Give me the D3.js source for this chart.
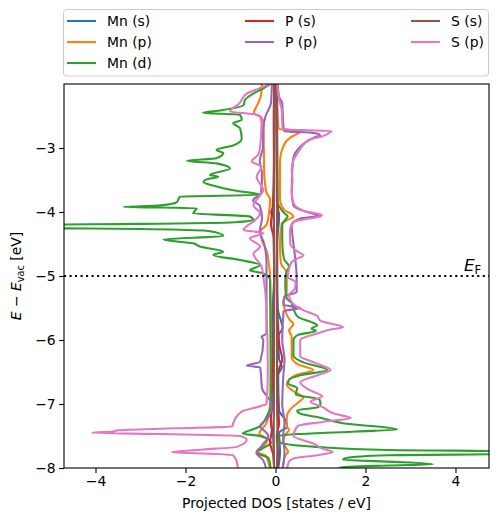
<!DOCTYPE html>
<html><head><meta charset="utf-8">
<script src="https://cdn.jsdelivr.net/npm/d3@7"></script>
<style>body{margin:0;background:#fff} svg{display:block} text{font-family:"DejaVu Sans",sans-serif;fill:#000}</style>
</head><body><svg id="c" width="498" height="522"></svg>
<script>
const seriesNames = ["Mn (s)","Mn (p)","Mn (d)","P (s)","P (p)","S (s)","S (p)"];
const seriesColors = ["#1f77b4","#ff7f0e","#2ca02c","#d62728","#9467bd","#8c564b","#e377c2"];
const xTicks = [-4,-2,0,2,4];
const yTicks = [-8,-7,-6,-5,-4,-3];
const fermiLevel = -5;

// each point: [energy (eV), projected DOS]; spin up > 0, spin down < 0
const mnSUp = [[-2,0.02],[-3,0.03],[-3.9,0.04],[-4.05,0.08],[-4.5,0.04],[-5,0.04],[-5.5,0.05],[-5.7,0.12],[-5.8,0.16],[-5.95,0.06],[-6.3,0.08],[-6.42,0.14],[-6.55,0.06],[-7.1,0.08],[-7.25,0.22],[-7.35,0.26],[-7.45,0.08],[-7.75,0.1],[-8.05,0.05]];
const mnSDown = [[-2,-0.02],[-3.9,-0.04],[-4.0,-0.1],[-4.1,-0.04],[-5,-0.03],[-5.75,-0.08],[-6.4,-0.06],[-7.3,-0.1],[-7.5,-0.05],[-8.05,-0.03]];

const mnPUp = [[-2.0,0.03],[-2.5,0.05],[-2.7,0.07],[-2.72,0.3],[-2.75,0.55],[-2.79,0.45],[-2.84,0.32],[-2.98,0.17],[-3.2,0.1],[-3.5,0.1],[-3.8,0.1],[-3.97,0.2],[-4.03,0.35],[-4.07,0.4],[-4.12,0.28],[-4.18,0.14],[-4.5,0.1],[-4.8,0.12],[-4.95,0.25],[-5.25,0.25],[-5.4,0.17],[-5.55,0.22],[-5.69,0.32],[-5.75,0.4],[-5.85,0.3],[-5.95,0.36],[-6.27,0.36],[-6.38,0.5],[-6.47,0.84],[-6.55,0.45],[-6.62,0.3],[-6.7,0.25],[-6.8,0.4],[-6.9,0.62],[-6.95,0.55],[-7.09,0.32],[-7.2,0.25],[-7.35,0.25],[-7.4,0.3],[-7.5,0.2],[-7.6,0.17],[-7.75,0.28],[-7.8,0.22],[-8.05,0.15]];
const mnPDown = [[-2.0,-0.3],[-2.2,-0.33],[-2.35,-0.42],[-2.45,-0.48],[-2.52,-0.32],[-2.6,-0.27],[-3.0,-0.26],[-3.4,-0.25],[-3.7,-0.2],[-3.8,-0.12],[-4.05,-0.15],[-4.2,-0.2],[-4.3,-0.33],[-4.45,-0.3],[-4.6,-0.2],[-4.8,-0.15],[-5.0,-0.12],[-6.0,-0.1],[-7.0,-0.12],[-7.3,-0.2],[-7.46,-0.36],[-7.55,-0.18],[-7.65,-0.25],[-7.74,-0.42],[-7.82,-0.2],[-8.05,-0.12]];

const mnDUp = [[-2.0,0.03],[-3.0,0.04],[-3.85,0.05],[-3.95,0.12],[-4.02,0.2],[-4.07,0.27],[-4.12,0.22],[-4.2,0.15],[-4.4,0.15],[-4.6,0.16],[-4.75,0.2],[-4.85,0.3],[-4.93,0.25],[-5.0,0.22],[-5.2,0.22],[-5.35,0.25],[-5.42,0.36],[-5.55,0.42],[-5.64,0.5],[-5.72,0.8],[-5.77,0.93],[-5.82,0.8],[-5.86,0.9],[-5.92,0.5],[-6.0,0.4],[-6.25,0.4],[-6.35,0.62],[-6.47,1.15],[-6.55,0.55],[-6.62,0.3],[-6.68,0.28],[-6.75,0.48],[-6.85,0.45],[-6.93,0.98],[-7.0,1.0],[-7.05,0.95],[-7.1,0.48],[-7.15,0.55],[-7.2,0.9],[-7.3,1.5],[-7.4,2.7],[-7.43,1.8],[-7.47,0.5],[-7.5,0.05],[-7.6,0.1],[-7.67,0.9],[-7.72,2.5],[-7.74,5.5],[-7.78,5.5],[-7.8,2.5],[-7.84,1.6],[-7.87,1.5],[-7.9,2.5],[-7.94,3.5],[-7.96,2.5],[-7.99,1.45],[-8.05,1.4]];
const mnDDown = [[-2.0,-0.12],[-2.02,-0.16],[-2.25,-0.68],[-2.33,-0.71],[-2.41,-1.2],[-2.45,-1.62],[-2.48,-0.79],[-2.56,-0.75],[-2.61,-0.94],[-2.69,-0.79],[-2.85,-0.75],[-2.96,-0.94],[-3.03,-1.31],[-3.08,-1.16],[-3.16,-1.31],[-3.2,-1.97],[-3.24,-1.31],[-3.32,-1.01],[-3.42,-1.46],[-3.45,-1.27],[-3.49,-1.53],[-3.53,-1.6],[-3.6,-1.31],[-3.66,-0.94],[-3.73,-0.34],[-3.76,-2.12],[-3.85,-2.2],[-3.9,-2.6],[-3.92,-3.38],[-3.94,-1.75],[-4.02,-1.83],[-4.07,-0.57],[-4.125,-0.49],[-4.16,-0.9],[-4.185,-3.0],[-4.2,-5.5],[-4.25,-5.5],[-4.265,-3.0],[-4.29,-1.6],[-4.31,-1.38],[-4.375,-1.16],[-4.43,-2.49],[-4.49,-1.83],[-4.54,-1.68],[-4.62,-1.16],[-4.67,-1.38],[-4.75,-0.79],[-4.83,-0.34],[-4.91,-0.57],[-4.96,-0.27],[-5.06,-0.12],[-6.0,-0.11],[-7.0,-0.1],[-7.2,-0.2],[-7.35,-0.35],[-7.42,-0.6],[-7.46,-0.73],[-7.5,-0.35],[-7.6,-0.1],[-7.7,-0.3],[-7.76,-0.42],[-7.85,-0.15],[-8.05,-0.1]];

const pSUp = [[-2,0.02],[-3,0.025],[-3.8,0.03],[-4.0,0.06],[-4.3,0.03],[-5,0.03],[-5.5,0.04],[-5.8,0.06],[-6.1,0.09],[-6.3,0.15],[-6.45,0.08],[-6.6,0.04],[-7.0,0.05],[-7.3,0.08],[-7.5,0.03],[-7.8,0.06],[-8.05,0.03]];
const pSDown = [[-2,-0.02],[-2.5,-0.04],[-3.3,-0.035],[-3.9,-0.06],[-4.2,-0.1],[-4.4,-0.04],[-5,-0.03],[-6.0,-0.04],[-6.6,-0.06],[-6.9,-0.04],[-7.2,-0.1],[-7.4,-0.08],[-7.6,-0.12],[-7.8,-0.05],[-8.05,-0.03]];

const pPUp = [[-2.0,0.05],[-2.2,0.08],[-2.3,0.15],[-2.6,0.17],[-2.74,0.2],[-2.76,0.8],[-2.8,0.99],[-2.84,0.85],[-2.92,0.65],[-3.02,0.5],[-3.15,0.4],[-3.4,0.37],[-3.7,0.36],[-3.9,0.4],[-4.0,0.7],[-4.06,0.96],[-4.1,0.55],[-4.2,0.36],[-4.5,0.4],[-4.8,0.45],[-5.0,0.47],[-5.25,0.47],[-5.32,0.2],[-5.45,0.18],[-5.5,0.55],[-5.55,0.18],[-6.0,0.15],[-6.3,0.2],[-6.5,0.18],[-7.0,0.15],[-7.3,0.2],[-7.5,0.17],[-7.75,0.2],[-8.05,0.15]];
const pPDown = [[-2.0,-0.08],[-2.3,-0.1],[-2.5,-0.22],[-2.7,-0.27],[-3.0,-0.28],[-3.2,-0.35],[-3.4,-0.3],[-3.7,-0.32],[-3.82,-0.5],[-3.9,-0.35],[-4.1,-0.3],[-4.3,-0.35],[-4.5,-0.25],[-4.8,-0.2],[-5.0,-0.2],[-5.9,-0.2],[-5.95,-0.31],[-6.0,-0.27],[-6.34,-0.34],[-6.4,-0.64],[-6.43,-0.34],[-6.67,-0.31],[-6.75,-0.3],[-7.02,-0.08],[-7.2,-0.15],[-7.35,-0.34],[-7.45,-0.2],[-7.5,-0.16],[-7.65,-0.3],[-7.77,-0.42],[-7.87,-0.28],[-8.05,-0.2]];

const sSUp = [[-2,0.03],[-3,0.035],[-4,0.035],[-5,0.03],[-6,0.035],[-7,0.035],[-7.5,0.045],[-8.05,0.03]];
const sSDown = [[-2,-0.03],[-3,-0.03],[-4,-0.035],[-5,-0.03],[-6,-0.03],[-7,-0.035],[-7.5,-0.04],[-8.05,-0.03]];

const sPUp = [[-2.0,0.04],[-2.15,0.06],[-2.3,0.1],[-2.4,0.14],[-2.6,0.15],[-2.7,0.16],[-2.72,0.6],[-2.735,1.25],[-2.76,1.2],[-2.8,1.1],[-2.82,1.03],[-2.86,0.77],[-2.95,0.62],[-3.06,0.51],[-3.19,0.4],[-3.35,0.36],[-3.5,0.38],[-3.66,0.36],[-3.86,0.4],[-3.98,0.62],[-4.05,1.03],[-4.08,0.95],[-4.12,0.6],[-4.16,0.4],[-4.3,0.32],[-4.5,0.33],[-4.6,0.45],[-4.68,0.62],[-4.72,0.5],[-4.78,0.36],[-4.9,0.3],[-5.01,0.27],[-5.1,0.45],[-5.2,0.43],[-5.3,0.3],[-5.4,0.35],[-5.53,0.6],[-5.62,0.92],[-5.7,1.0],[-5.8,1.5],[-5.84,1.2],[-5.9,0.92],[-6.0,0.55],[-6.25,0.55],[-6.35,0.85],[-6.47,1.22],[-6.55,0.93],[-6.66,0.55],[-6.78,0.75],[-6.88,1.04],[-6.96,0.78],[-7.05,1.05],[-7.15,1.3],[-7.22,1.67],[-7.28,1.05],[-7.34,0.5],[-7.5,0.4],[-7.62,0.85],[-7.7,1.05],[-7.75,1.27],[-7.8,0.93],[-7.85,0.4],[-7.9,0.3],[-8.05,0.25]];
const sPDown = [[-2.0,-0.12],[-2.08,-0.4],[-2.15,-0.64],[-2.3,-0.8],[-2.43,-1.01],[-2.47,-0.5],[-2.51,-0.34],[-2.61,-0.31],[-2.97,-0.34],[-3.1,-0.38],[-3.21,-0.53],[-3.29,-0.31],[-3.45,-0.42],[-3.66,-0.27],[-3.71,-0.31],[-3.9,-0.49],[-4.02,-0.34],[-4.125,-0.45],[-4.28,-0.71],[-4.33,-0.27],[-4.41,-0.57],[-4.54,-0.34],[-4.65,-0.49],[-4.85,-0.31],[-5.01,-0.27],[-5.5,-0.2],[-6.5,-0.17],[-7.0,-0.2],[-7.02,-0.27],[-7.12,-0.75],[-7.3,-0.94],[-7.35,-0.96],[-7.38,-2.2],[-7.41,-3.5],[-7.43,-3.6],[-7.45,-4.08],[-7.47,-2.5],[-7.5,-0.79],[-7.56,-0.64],[-7.67,-0.86],[-7.71,-1.6],[-7.73,-2.0],[-7.755,-2.31],[-7.78,-1.3],[-7.8,-0.94],[-7.9,-0.86],[-8.05,-0.83]];

const seriesData = [[mnSUp,mnSDown],[mnPUp,mnPDown],[mnDUp,mnDDown],[pSUp,pSDown],[pPUp,pPDown],[sSUp,sSDown],[sPUp,sPDown]];

const svg = d3.select("#c");
const L = 64, R = 489, T = 84, B = 468;
const x = d3.scaleLinear().domain([-4.7, 4.745]).range([L, R]);
const y = d3.scaleLinear().domain([-8, -2]).range([B, T]);

svg.append("defs").append("clipPath").attr("id","clip")
  .append("rect").attr("x",L).attr("y",T).attr("width",R-L).attr("height",B-T);

const plot = svg.append("g").attr("clip-path","url(#clip)");
const line = d3.line().x(d => x(d[1])).y(d => y(d[0])).curve(d3.curveMonotoneY);
seriesData.forEach((pair, i) => {
  pair.forEach(arr => {
    plot.append("path").attr("d", line(arr)).attr("fill","none")
      .attr("stroke", seriesColors[i]).attr("stroke-width",2.08)
      .attr("stroke-linejoin","round").attr("stroke-linecap","butt");
  });
});

// Fermi level
svg.append("line").attr("x1",L).attr("x2",R).attr("y1",y(fermiLevel)).attr("y2",y(fermiLevel))
  .attr("stroke","#000").attr("stroke-width",2.08).attr("stroke-dasharray","2.08,3.43");
const ef = svg.append("text").attr("x",464).attr("y",y(fermiLevel)-5).style("font-size","16.7px");
ef.append("tspan").attr("font-style","italic").text("E");
ef.append("tspan").attr("dy",3).style("font-size","11.7px").text("F");

// axes
const xAxis = d3.axisBottom(x).tickValues(xTicks).tickSize(4.9).tickPadding(3.5)
  .tickFormat(d => d3.format("d")(d).replace("-","\u2212"));
const gx = svg.append("g").attr("transform",`translate(0,${B})`).call(xAxis);
const yAxis = d3.axisLeft(y).tickValues(yTicks).tickSize(4.9).tickPadding(3.5)
  .tickFormat(d => d3.format("d")(d).replace("-","\u2212"));
const gy = svg.append("g").attr("transform",`translate(${L},0)`).call(yAxis);
[gx, gy].forEach(g => {
  g.select(".domain").remove();
  g.selectAll("line").attr("stroke","#000").attr("stroke-width",1.1);
  g.selectAll("text").style("font-size","13.9px").attr("font-family","DejaVu Sans").attr("fill","#000");
});
svg.append("rect").attr("x",L).attr("y",T).attr("width",R-L).attr("height",B-T)
  .attr("fill","none").attr("stroke","#000").attr("stroke-width",1.1);

// axis labels
svg.append("text").attr("x",(L+R)/2).attr("y",508).attr("text-anchor","middle")
  .style("font-size","13.9px").text("Projected DOS [states / eV]");
const yl = svg.append("text").attr("transform",`translate(21,${(T+B)/2}) rotate(-90)`)
  .attr("text-anchor","middle").style("font-size","13.9px");
yl.append("tspan").attr("font-style","italic").text("E");
yl.append("tspan").text(" \u2212 ");
yl.append("tspan").attr("font-style","italic").text("E");
yl.append("tspan").attr("dy",3).style("font-size","9.7px").text("vac");
yl.append("tspan").attr("dy",-3).text(" [eV]");

// legend
const lg = svg.append("g");
lg.append("rect").attr("x",63.5).attr("y",9.5).attr("width",425).attr("height",66.5)
  .attr("rx",3).attr("fill","#fff").attr("fill-opacity",0.8).attr("stroke","#ccc").attr("stroke-width",1);
const colCounts = [3,2,2];
const colX = [67,245,411];
const rowY = [21,42,63];
let idx = 0;
colCounts.forEach((n, c) => {
  for (let r = 0; r < n; r++) {
    const i = idx++;
    lg.append("line").attr("x1",colX[c]).attr("x2",colX[c]+29).attr("y1",rowY[r]).attr("y2",rowY[r])
      .attr("stroke",seriesColors[i]).attr("stroke-width",2.08);
    lg.append("text").attr("x",colX[c]+40).attr("y",rowY[r]+5).style("font-size","13.9px").text(seriesNames[i]);
  }
});
</script></body></html>
